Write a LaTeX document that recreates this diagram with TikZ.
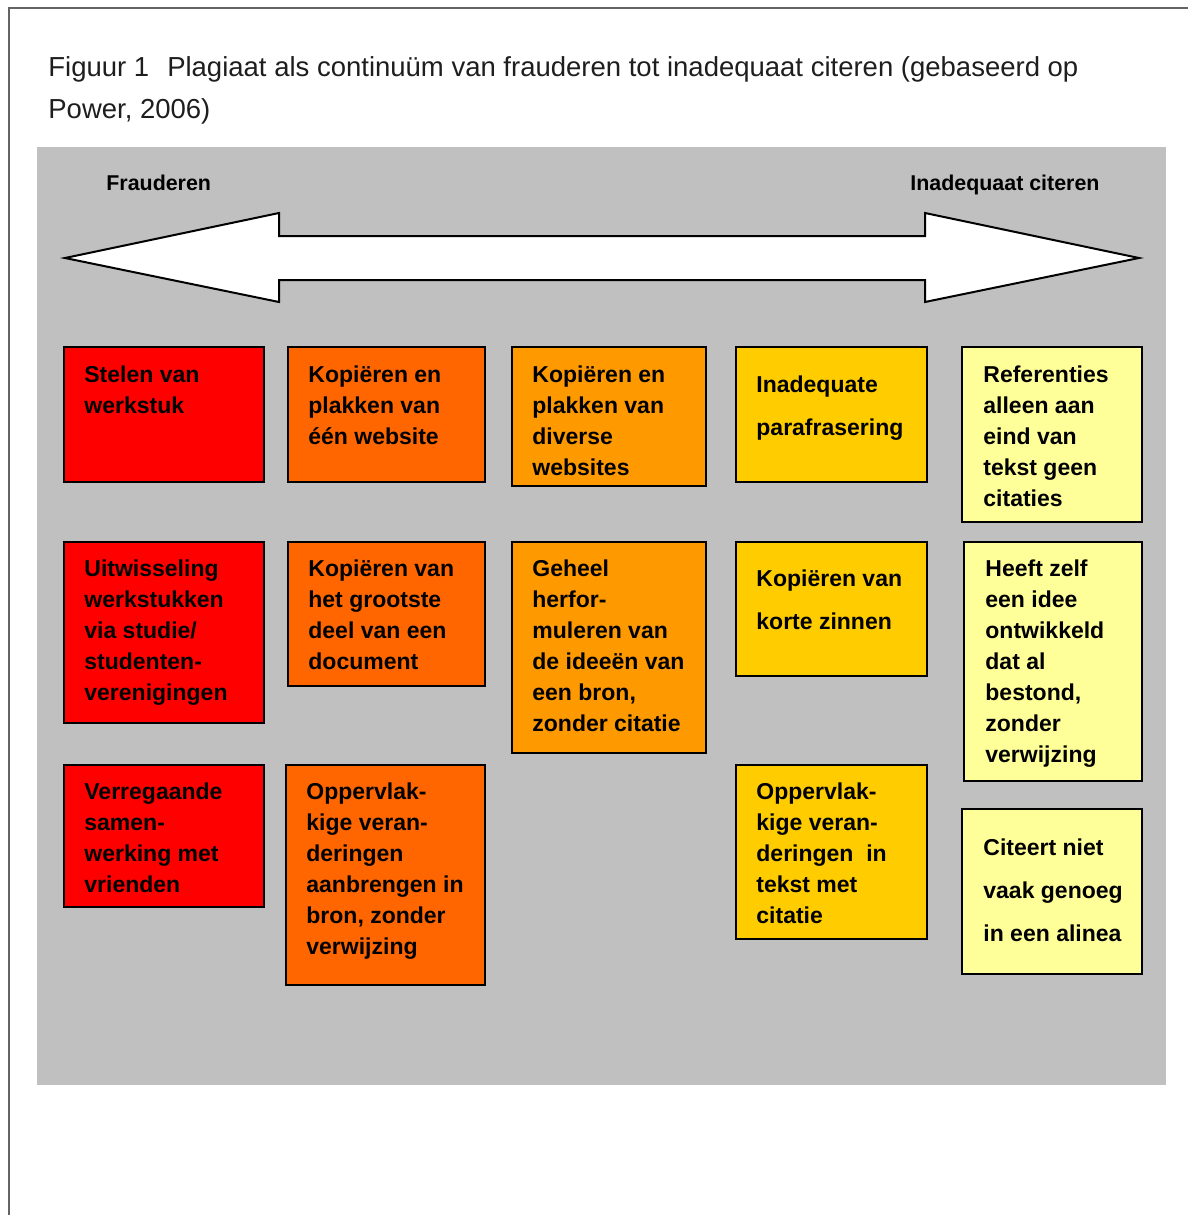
\documentclass[tikz,border=0pt]{standalone}
\usepackage{fontspec}
\setmainfont{Liberation Sans}
\usetikzlibrary{fit}
\definecolor{cRed}{RGB}{255,0,0}
\definecolor{cOrA}{RGB}{255,102,0}
\definecolor{cOrB}{RGB}{255,153,0}
\definecolor{cYeA}{RGB}{255,204,0}
\definecolor{cYeB}{RGB}{255,255,153}
\definecolor{cBg}{RGB}{192,192,192}
\definecolor{cFrame}{RGB}{100,100,100}
\definecolor{cTitle}{RGB}{30,30,30}
\tikzset{
  cellbox/.style={draw=black, line width=0.9pt, inner sep=0pt, rectangle},
  celltext/.style={anchor=north west, inner sep=0pt, align=left, text=black,
    yshift=-2pt,
    font=\bfseries\fontsize{11.5}{15.5}\selectfont,
    execute at begin node={\rule{0pt}{10pt}}},
  widetext/.style={celltext, font=\bfseries\fontsize{11.5}{21.5}\selectfont},
  endlabel/.style={anchor=base west, inner sep=0pt, font=\bfseries\fontsize{10.7}{12}\selectfont},
  titletext/.style={anchor=base west, inner sep=0pt, text=cTitle, font=\fontsize{13.75}{21}\selectfont},
}
\begin{document}
\begin{tikzpicture}[x=0.5pt, y=-0.5pt]
\useasboundingbox (0,0) rectangle (1188,1215);
% frame
\draw[cFrame, line width=1.25pt] (9,1215) -- (9,8) -- (1188,8);
% title
\node[titletext] (title1) at (48,76) {Figuur 1\hspace{9pt}Plagiaat als continuüm van frauderen tot inadequaat citeren (gebaseerd op};
\node[titletext] (title2) at (48,118) {Power, 2006)};
% background
\fill[cBg] (37,147) rectangle (1166,1085);
% labels
\node[endlabel] (lfr) at (106,190) {Frauderen};
\node[endlabel] (lic) at (910,190) {Inadequaat citeren};
% double arrow
\draw[fill=white, line width=1pt, line join=miter]
  (65,258) -- (279,213) -- (279,236) -- (925,236) -- (925,213) -- (1139,258)
  -- (925,302) -- (925,280) -- (279,280) -- (279,302) -- cycle;
% column 1
\node[cellbox, fill=cRed, fit={(64,347) (264,482)}] (b11) {};
\node[celltext] (t11) at (84,361) {Stelen van\\werkstuk};
\node[cellbox, fill=cRed, fit={(64,542) (264,723)}] (b21) {};
\node[celltext] (t21) at (84,555) {Uitwisseling\\werkstukken\\via studie/\\studenten-\\verenigingen};
\node[cellbox, fill=cRed, fit={(64,765) (264,907)}] (b31) {};
\node[celltext] (t31) at (84,778) {Verregaande\\samen-\\werking met\\vrienden};
% column 2
\node[cellbox, fill=cOrA, fit={(288,347) (485,482)}] (b12) {};
\node[celltext] (t12) at (308,361) {Kopiëren en\\plakken van\\één website};
\node[cellbox, fill=cOrA, fit={(288,542) (485,686)}] (b22) {};
\node[celltext] (t22) at (308,555) {Kopiëren van\\het grootste\\deel van een\\document};
\node[cellbox, fill=cOrA, fit={(286,765) (485,985)}] (b32) {};
\node[celltext] (t32) at (306,778) {Oppervlak-\\kige veran-\\deringen\\aanbrengen in\\bron, zonder\\verwijzing};
% column 3
\node[cellbox, fill=cOrB, fit={(512,347) (706,486)}] (b13) {};
\node[celltext] (t13) at (532,361) {Kopiëren en\\plakken van\\diverse\\websites};
\node[cellbox, fill=cOrB, fit={(512,542) (706,753)}] (b23) {};
\node[celltext] (t23) at (532,555) {Geheel\\herfor-\\muleren van\\de ideeën van\\een bron,\\zonder citatie};
% column 4
\node[cellbox, fill=cYeA, fit={(736,347) (927,482)}] (b14) {};
\node[widetext] (t14) at (756,371) {Inadequate\\parafrasering};
\node[cellbox, fill=cYeA, fit={(736,542) (927,676)}] (b24) {};
\node[widetext] (t24) at (756,565) {Kopiëren van\\korte zinnen};
\node[cellbox, fill=cYeA, fit={(736,765) (927,939)}] (b34) {};
\node[celltext] (t34) at (756,778) {Oppervlak-\\kige veran-\\deringen\ \ in\\tekst met\\citatie};
% column 5
\node[cellbox, fill=cYeB, fit={(962,347) (1142,522)}] (b15) {};
\node[celltext] (t15) at (983,361) {Referenties\\alleen aan\\eind van\\tekst geen\\citaties};
\node[cellbox, fill=cYeB, fit={(964,542) (1142,781)}] (b25) {};
\node[celltext] (t25) at (985,555) {Heeft zelf\\een idee\\ontwikkeld\\dat al\\bestond,\\zonder\\verwijzing};
\node[cellbox, fill=cYeB, fit={(962,809) (1142,974)}] (b35) {};
\node[widetext] (t35) at (983,834) {Citeert niet\\vaak genoeg\\in een alinea};
\end{tikzpicture}
\end{document}
